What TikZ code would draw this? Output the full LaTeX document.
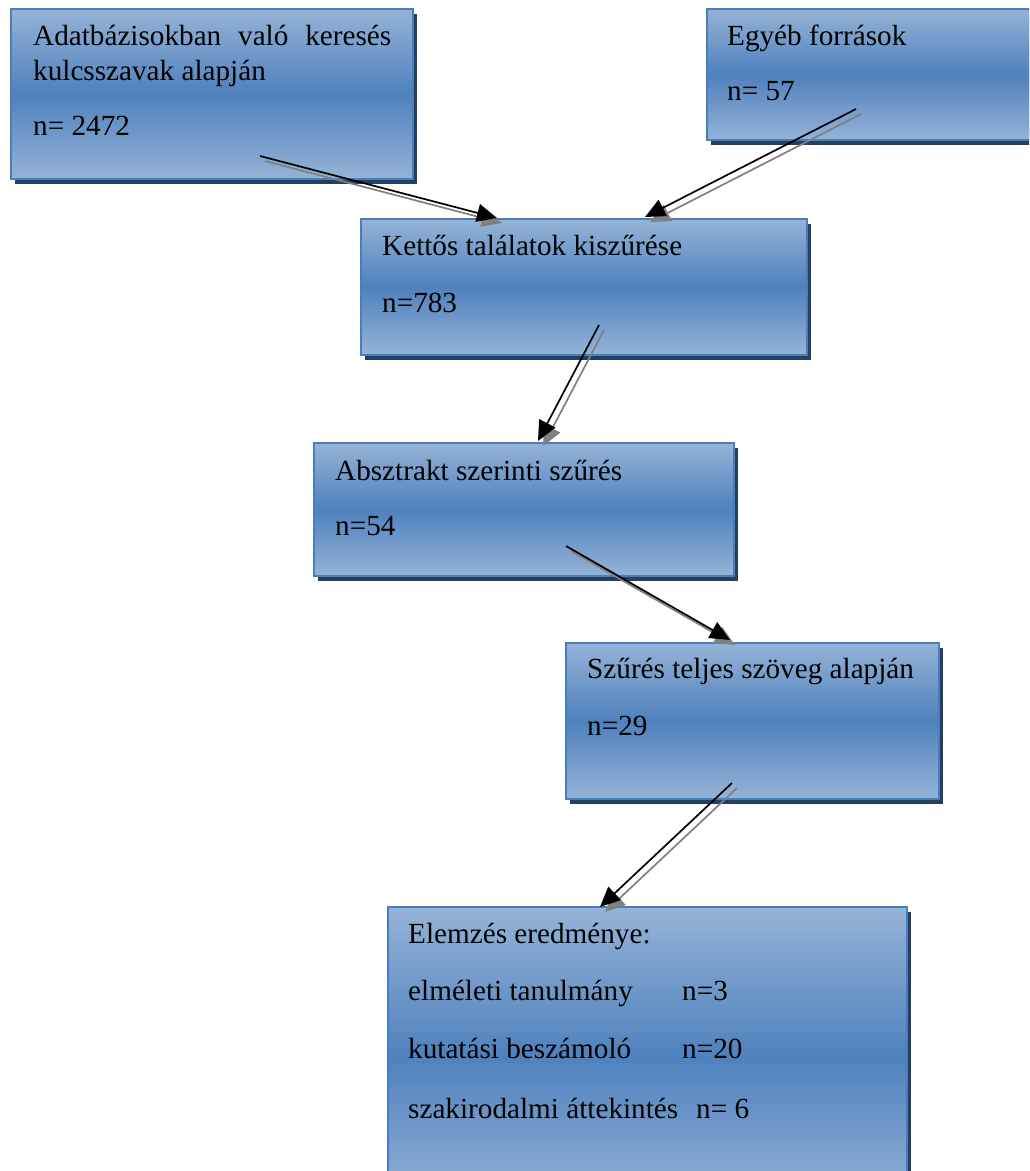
\documentclass[tikz,border=0pt]{standalone}
\usepackage{fontspec}
\setmainfont{Liberation Serif}
\usetikzlibrary{arrows.meta,shadows}
\definecolor{lightc}{RGB}{149,179,215}
\definecolor{darkc}{RGB}{79,129,189}
\definecolor{borderc}{RGB}{74,126,187}
\definecolor{shadowc}{RGB}{36,63,96}
\definecolor{arrowshadow}{RGB}{128,128,128}
\begin{document}
\begin{tikzpicture}[x=1pt,y=-1pt,
  box/.style={rectangle, anchor=north west, inner sep=0pt, draw=borderc, line width=2pt,
    top color=lightc, bottom color=lightc, middle color=darkc,
    drop shadow={shadow xshift=4pt, shadow yshift=-5pt, fill=shadowc, opacity=1}},
  txt/.style={anchor=base west, inner sep=0pt, font=\fontsize{29.2}{33}\selectfont},
  conn/.style={line width=1.7pt, -{Triangle[length=20pt,width=18pt]}},
  connshadow/.style={conn, draw=arrowshadow, color=arrowshadow}
]
\useasboundingbox (0,0) rectangle (1029,1171);
\clip (0,0) rectangle (1029,1171);

% boxes
\node[box, minimum width=402pt, minimum height=170pt] (b1) at (10,8) {};
\node[box, minimum width=400pt, minimum height=131pt] (b2) at (706,8) {};
\node[box, minimum width=446pt, minimum height=136pt] (b3) at (360,218) {};
\node[box, minimum width=420pt, minimum height=133pt] (b4) at (313,442) {};
\node[box, minimum width=373pt, minimum height=156pt] (b5) at (565,642) {};
\node[box, minimum width=519pt, minimum height=300pt] (b6) at (387,906) {};

% texts
\node[txt] (t1a) at (33,45) {\makebox[358pt][s]{Adatbázisokban való keresés}};
\node[txt] (t1b) at (33,80) {kulcsszavak alapján};
\node[txt] (t1c) at (33,135) {n= 2472};
\node[txt] (t2a) at (727,45) {Egyéb források};
\node[txt] (t2b) at (727,100) {n= 57};
\node[txt] (t3a) at (382,255) {Kettős találatok kiszűrése};
\node[txt] (t3b) at (382,312) {n=783};
\node[txt] (t4a) at (335,480) {Absztrakt szerinti szűrés};
\node[txt] (t4b) at (335,535) {n=54};
\node[txt] (t5a) at (587,678) {Szűrés teljes szöveg alapján};
\node[txt] (t5b) at (587,735) {n=29};
\node[txt] (t6a) at (408,943) {Elemzés eredménye:};
\node[txt] (t6b) at (408,1000) {elméleti tanulmány};
\node[txt] (t6bn) at (682,1000) {n=3};
\node[txt] (t6c) at (408,1058) {kutatási beszámoló};
\node[txt] (t6cn) at (682,1058) {n=20};
\node[txt] (t6d) at (408,1118) {szakirodalmi áttekintés};
\node[txt] (t6dn) at (696,1118) {n= 6};

% connector end points
\coordinate (s1) at (260,156); \coordinate (e1) at (497,218);
\coordinate (s2) at (856,109); \coordinate (e2) at (645,217);
\coordinate (s3) at (599,325); \coordinate (e3) at (538,441);
\coordinate (s4) at (566,546); \coordinate (e4) at (730,640);
\coordinate (s5) at (732,783); \coordinate (e5) at (600,907);

% connector shadows
\draw[connshadow] ([shift={(5,5)}]s1) -- ([shift={(5,5)}]e1);
\draw[connshadow] ([shift={(5,5)}]s2) -- ([shift={(5,5)}]e2);
\draw[connshadow] ([shift={(5,5)}]s3) -- ([shift={(5,5)}]e3);
\draw[connshadow] ([shift={(5,5)}]s4) -- ([shift={(5,5)}]e4);
\draw[connshadow] ([shift={(5,5)}]s5) -- ([shift={(5,5)}]e5);

% connectors
\draw[conn] (s1) -- (e1);
\draw[conn] (s2) -- (e2);
\draw[conn] (s3) -- (e3);
\draw[conn] (s4) -- (e4);
\draw[conn] (s5) -- (e5);
\end{tikzpicture}
\end{document}
